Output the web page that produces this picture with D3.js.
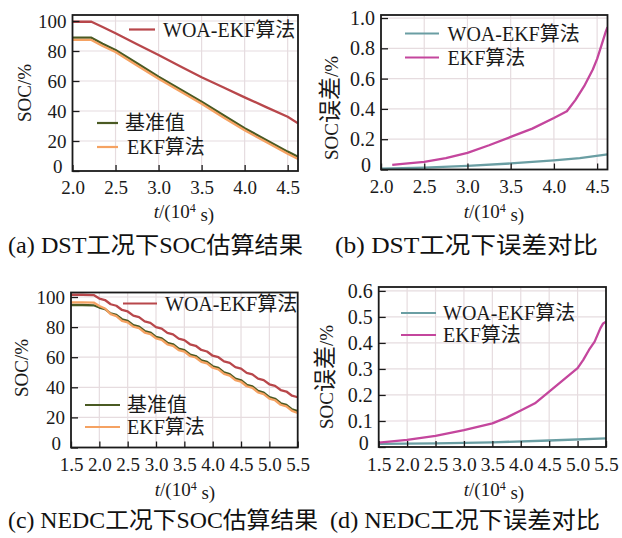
<!DOCTYPE html>
<html><head><meta charset="utf-8">
<script src="https://cdn.jsdelivr.net/npm/d3@7"></script>
<style>
html,body{margin:0;padding:0;background:#fff;}
svg{display:block;}
</style>
</head><body>
<svg id="chart" width="622" height="538"></svg>
<script>
// ---------- DATA ----------
// (a) DST SOC estimation
const aTime = [2.0, 2.1, 2.22, 2.35, 2.5, 2.75, 3.0, 3.25, 3.5, 3.75, 4.0, 4.25, 4.5, 4.62];
const aWoa  = [99.5, 99.5, 99.5, 96.0, 91.8, 84.5, 77.3, 69.8, 62.5, 55.8, 49.1, 42.6, 36.2, 31.8];
const aRef  = [88.9, 88.9, 88.9, 84.8, 80.7, 71.8, 62.9, 54.5, 46.2, 37.3, 28.5, 20.7, 12.9, 9.5];
const aEkf  = [87.4, 87.4, 87.4, 83.3, 79.3, 70.4, 61.5, 53.1, 44.8, 35.9, 27.1, 19.3, 11.5, 8.0];
const aXTicks = [2.0, 2.5, 3.0, 3.5, 4.0, 4.5];
const aYTicks = [0, 20, 40, 60, 80, 100];

// (b) DST error
const bEkfTime = [2.13, 2.25, 2.5, 2.75, 3.0, 3.25, 3.5, 3.75, 4.0, 4.15, 4.25, 4.35, 4.45, 4.5, 4.55, 4.6, 4.62];
const bEkf     = [0.03, 0.037, 0.05, 0.075, 0.11, 0.16, 0.215, 0.27, 0.34, 0.385, 0.46, 0.55, 0.66, 0.73, 0.82, 0.91, 0.94];
const bWoaTime = [2.0, 2.5, 3.0, 3.5, 4.0, 4.3, 4.62];
const bWoa     = [0.005, 0.012, 0.024, 0.04, 0.06, 0.075, 0.1];
const bXTicks = [2.0, 2.5, 3.0, 3.5, 4.0, 4.5];
const bYTicks = [0, 0.2, 0.4, 0.6, 0.8, 1.0];

// (c) NEDC SOC estimation
const cTime = [1.5, 1.7, 1.9, 2.0, 2.1, 2.2, 2.3, 2.4, 2.5, 2.6, 2.7, 2.8, 2.9, 3.0, 3.1, 3.2, 3.3, 3.4, 3.5,
               3.6, 3.7, 3.8, 3.9, 4.0, 4.1, 4.2, 4.3, 4.4, 4.5, 4.6, 4.7, 4.8, 4.9, 5.0, 5.1, 5.2, 5.3, 5.4, 5.5];
const cWoa = [101.5, 101.5, 101.3, 99.0, 98.0, 95.2, 94.2, 91.4, 90.4, 87.6, 86.6, 83.8, 82.8, 80.0, 79.0, 76.2, 75.2, 72.4, 71.4,
              68.6, 67.6, 64.8, 63.8, 61.0, 60.0, 57.2, 56.2, 53.4, 52.4, 49.6, 48.6, 45.8, 44.8, 42.0, 41.0, 38.2, 37.2, 34.4, 33.4];
const cRef = [94.7, 94.7, 94.5, 93.0, 92.0, 89.1, 88.1, 85.2, 84.2, 81.3, 80.3, 77.4, 76.4, 73.5, 72.5, 69.6, 68.6, 65.7, 64.7,
              61.8, 60.8, 57.9, 56.9, 54.0, 52.9, 49.9, 48.8, 45.8, 44.7, 41.7, 40.6, 37.6, 36.5, 33.5, 32.4, 29.4, 28.3, 25.3, 24.2];
const cEkf = [96.5, 96.5, 96.3, 94.0, 92.4, 88.6, 87.3, 84.2, 83.2, 80.3, 79.3, 76.4, 75.4, 72.5, 71.5, 68.6, 67.6, 64.7, 63.7,
              60.8, 59.8, 56.9, 55.9, 53.0, 51.9, 48.9, 47.8, 44.8, 43.7, 40.7, 39.6, 36.6, 35.5, 32.5, 31.4, 28.4, 27.3, 24.3, 22.9];
const cXTicks = [1.5, 2.0, 2.5, 3.0, 3.5, 4.0, 4.5, 5.0, 5.5];
const cYTicks = [0, 20, 40, 60, 80, 100];

// (d) NEDC error
const dEkfTime = [1.5, 2.0, 2.5, 3.0, 3.5, 3.75, 4.0, 4.25, 4.5, 4.75, 5.0, 5.1, 5.2, 5.3, 5.4, 5.45, 5.5];
const dEkf     = [0.017, 0.027, 0.043, 0.065, 0.091, 0.113, 0.14, 0.168, 0.213, 0.258, 0.303, 0.335, 0.373, 0.405, 0.456, 0.475, 0.482];
const dWoaTime = [1.5, 2.5, 3.5, 4.5, 5.5];
const dWoa     = [0.012, 0.014, 0.018, 0.025, 0.033];
const dXTicks = [1.5, 2.0, 2.5, 3.0, 3.5, 4.0, 4.5, 5.0, 5.5];
const dYTicks = [0, 0.1, 0.2, 0.3, 0.4, 0.5, 0.6];

const nameWoa = "WOA-EKF算法", nameRef = "基准值", nameEkf = "EKF算法";
const captions = ["(a) DST工况下SOC估算结果", "(b) DST工况下误差对比", "(c) NEDC工况下SOC估算结果", "(d) NEDC工况下误差对比"];
// y titles split into [latin, cjk, latin]
const yTitles = [["SOC/%", "", ""], ["SOC", "误差", "/%"], ["SOC/%", "", ""], ["SOC", "误差", "/%"]];

// ---------- STYLE ----------
const FONT = "'Liberation Serif','Times New Roman','Noto Sans CJK SC',serif";
const C_WOA1 = "#b8474b", C_REF = "#4a5a23", C_EKF1 = "#f5a262";
const C_WOA2 = "#6a9ea3", C_EKF2 = "#c4469d";
const GRID = "#e6dcdf";

const svg = d3.select("#chart").style("font-family", FONT);

function zip(xs, ys){ return xs.map((x,i)=>({x, y: ys[i]})); }

function panel(cfg){
  const x = d3.scaleLinear().domain(cfg.xDom).range(cfg.xr);
  const y = d3.scaleLinear().domain(cfg.yDom).range(cfg.yr);
  const g = svg.append("g");
  const id = "clip" + cfg.key;
  svg.append("clipPath").attr("id", id).append("rect")
     .attr("x", cfg.xr[0]).attr("y", cfg.yr[1]).attr("width", cfg.xr[1]-cfg.xr[0]).attr("height", cfg.yr[0]-cfg.yr[1]);
  // grid
  g.append("g").selectAll("line").data(cfg.xTicks.filter(t=>t>cfg.xDom[0] && t<cfg.xDom[1])).join("line")
    .attr("x1", d=>x(d)).attr("x2", d=>x(d)).attr("y1", cfg.yr[0]).attr("y2", cfg.yr[1])
    .attr("stroke", GRID).attr("stroke-width", 1.2);
  g.append("g").selectAll("line").data(cfg.yTicks.filter(t=>t>cfg.yDom[0] && t<cfg.yDom[1])).join("line")
    .attr("y1", d=>y(d)).attr("y2", d=>y(d)).attr("x1", cfg.xr[0]).attr("x2", cfg.xr[1])
    .attr("stroke", GRID).attr("stroke-width", 1.2);
  // series
  const line = d3.line().x(d=>x(d.x)).y(d=>y(d.y));
  const sg = g.append("g").attr("clip-path", `url(#${id})`);
  cfg.series.forEach(s=>{
    sg.append("path").attr("d", line(zip(s.xs, s.ys))).attr("fill","none")
      .attr("stroke", s.color).attr("stroke-width", 2.3).attr("stroke-linejoin","round");
  });
  // axes
  const xa = d3.axisBottom(x).tickValues(cfg.xTicks).tickFormat(d3.format(".1f")).tickSizeInner(-6).tickSizeOuter(0).tickPadding(10);
  const ya = d3.axisLeft(y).tickValues(cfg.yTicks).tickFormat(cfg.yFmt).tickSizeInner(-7).tickSizeOuter(0).tickPadding(6);
  const gx = g.append("g").attr("transform", `translate(0,${cfg.yr[0]})`).call(xa);
  const gy = g.append("g").attr("transform", `translate(${cfg.xr[0]},0)`).call(ya);
  [gx, gy].forEach(a=>{
    a.select(".domain").remove();
    a.selectAll(".tick line").attr("stroke","#1a1a1a").attr("stroke-width",1.3);
    a.selectAll(".tick text").attr("fill","#1a1a1a").style("font-size", cfg.fs + "px").style("font-family",FONT);
  });
  gy.selectAll(".tick text").style("font-size", cfg.fsY + "px");
  // the "0" at the origin sits a little further left and higher, as in the reference
  gy.selectAll(".tick text").filter(d=>d===0).attr("x", -10).attr("dy", "0.1em");
  // frame
  g.append("rect").attr("x", cfg.xr[0]).attr("y", cfg.yr[1]).attr("width", cfg.xr[1]-cfg.xr[0]).attr("height", cfg.yr[0]-cfg.yr[1])
    .attr("fill","none").attr("stroke","#1a1a1a").attr("stroke-width",1.8);
  // titles
  const yt = g.append("text").attr("transform", `translate(${cfg.ytPos[0]},${cfg.ytPos[1]}) rotate(-90)`)
    .attr("text-anchor","middle").attr("dy","0.35em").style("font-size","19px").attr("fill","#1a1a1a");
  yt.append("tspan").text(cfg.yTitle[0]);
  if (cfg.yTitle[1]) yt.append("tspan").style("font-size","23px").text(cfg.yTitle[1]);
  if (cfg.yTitle[2]) yt.append("tspan").text(cfg.yTitle[2]);
  const xt = g.append("text").attr("x", cfg.xtPos[0]).attr("y", cfg.xtPos[1]).attr("text-anchor","middle")
    .attr("dy","0.35em").style("font-size","19px").attr("fill","#1a1a1a");
  xt.append("tspan").style("font-style","italic").text("t");
  xt.append("tspan").text("/(10");
  xt.append("tspan").attr("dy","-0.45em").style("font-size","12px").text("4");
  xt.append("tspan").attr("dy","0.45em").text(" s)");
  // legend
  cfg.legend.forEach(l=>{
    g.append("line").attr("x1", l.x1).attr("x2", l.x2).attr("y1", l.y).attr("y2", l.y)
      .attr("stroke", l.color).attr("stroke-width", 2.2);
    g.append("text").attr("x", l.tx).attr("y", l.y).attr("dy","0.35em").style("font-size","20px")
      .attr("fill","#1a1a1a").text(l.name);
  });
  // caption
  g.append("text").attr("x", cfg.cap[0]).attr("y", cfg.cap[1]).style("font-size","23px").attr("fill","#111")
    .attr("textLength", cfg.cap[2]).attr("lengthAdjust","spacingAndGlyphs").text(cfg.caption);
}

panel({key:"a", xDom:[2.0,4.62], xr:[72.5,298], yDom:[0,104], yr:[171,15], fs:19, fsY:19,
  xTicks:aXTicks, yTicks:aYTicks, yFmt:d3.format("d"),
  series:[{xs:aTime, ys:aWoa, color:C_WOA1},{xs:aTime, ys:aRef, color:C_REF},{xs:aTime, ys:aEkf, color:C_EKF1}],
  ytPos:[24,93], xtPos:[184,211], yTitle:yTitles[0],
  legend:[{x1:129,x2:155,y:29.5,tx:163,name:nameWoa,color:C_WOA1},
          {x1:97,x2:118,y:123,tx:125,name:nameRef,color:C_REF},
          {x1:97,x2:118,y:147,tx:127,name:nameEkf,color:C_EKF1}],
  caption:captions[0], cap:[8,253,295]});

panel({key:"b", xDom:[2.0,4.62], xr:[381,607.5], yDom:[0,1.02], yr:[169.5,15], fs:19, fsY:20,
  xTicks:bXTicks, yTicks:bYTicks, yFmt:d=> d===0 ? "0" : d3.format(".1f")(d),
  series:[{xs:bWoaTime, ys:bWoa, color:C_WOA2},{xs:bEkfTime, ys:bEkf, color:C_EKF2}],
  ytPos:[331,108], xtPos:[494,211], yTitle:yTitles[1],
  legend:[{x1:405,x2:439,y:33.5,tx:447.5,name:nameWoa,color:C_WOA2},
          {x1:405,x2:439,y:57.5,tx:447.5,name:nameEkf,color:C_EKF2}],
  caption:captions[1], cap:[335,253,263]});

panel({key:"c", xDom:[1.5,5.5], xr:[71,297.7], yDom:[0,103], yr:[447.5,292.5], fs:19, fsY:19,
  xTicks:cXTicks, yTicks:cYTicks, yFmt:d3.format("d"),
  series:[{xs:cTime, ys:cWoa, color:C_WOA1},{xs:cTime, ys:cRef, color:C_REF},{xs:cTime, ys:cEkf, color:C_EKF1}],
  ytPos:[21,368], xtPos:[185,489], yTitle:yTitles[2],
  legend:[{x1:123,x2:157,y:303.5,tx:165,name:nameWoa,color:C_WOA1},
          {x1:85,x2:120,y:405,tx:127,name:nameRef,color:C_REF},
          {x1:85,x2:120,y:427,tx:127,name:nameEkf,color:C_EKF1}],
  caption:captions[2], cap:[8,528,310]});

panel({key:"d", xDom:[1.5,5.5], xr:[378.7,606], yDom:[0,0.615], yr:[447,287], fs:19.5, fsY:20,
  xTicks:dXTicks, yTicks:dYTicks, yFmt:d=> d===0 ? "0" : d3.format(".1f")(d),
  series:[{xs:dWoaTime, ys:dWoa, color:C_WOA2},{xs:dEkfTime, ys:dEkf, color:C_EKF2}],
  ytPos:[326,377], xtPos:[494,489], yTitle:yTitles[3],
  legend:[{x1:401,x2:436,y:313,tx:443,name:nameWoa,color:C_WOA2},
          {x1:401,x2:436,y:335,tx:443,name:nameEkf,color:C_EKF2}],
  caption:captions[3], cap:[330,528,270]});
</script>
</body></html>
